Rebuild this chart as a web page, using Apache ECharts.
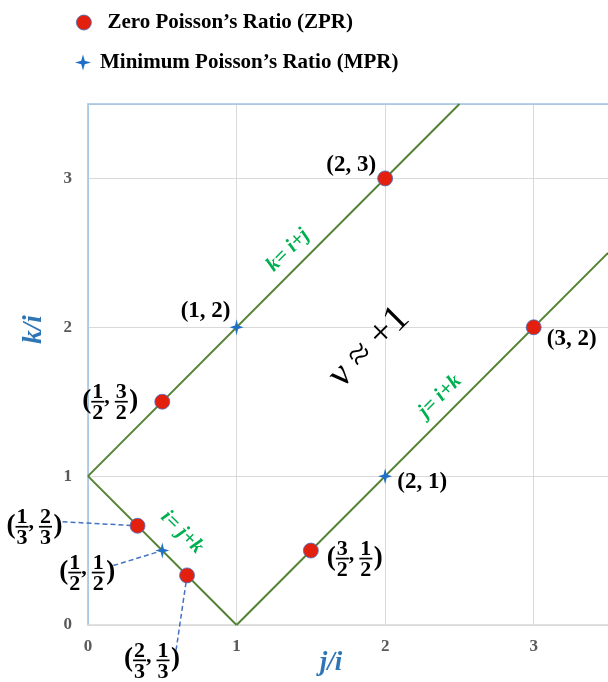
<!DOCTYPE html>
<html>
<head>
<meta charset="utf-8">
<script src="https://cdn.jsdelivr.net/npm/echarts@6/dist/echarts.min.js"></script>
<style>
  html, body { margin: 0; padding: 0; background: #fff; }
  #chart { width: 608px; height: 682px; }
</style>
</head>
<body>
<div id="chart"></div>
<script>
// Points written as fractions; the same strings feed both the marker position and its label.
const zprPoints = [['1/2', '3/2'], ['2', '3'], ['3', '2'], ['3/2', '1/2'], ['1/3', '2/3'], ['2/3', '1/3']];
const mprPoints = [['1', '2'], ['2', '1'], ['1/2', '1/2']];

// Boundary lines (end points in j/i, k/i)
const lineKij = [[0, 1], [2.5, 3.5]];   // k = i + j
const lineJik = [[1, 0], [3.5, 2.5]];   // j = i + k
const lineIjk = [[0, 1], [1, 0]];       // i = j + k

const xTicks = [0, 1, 2, 3];
const yTicks = [0, 1, 2, 3];

const seriesNames = ['Zero Poisson\u2019s Ratio (ZPR)', 'Minimum Poisson\u2019s Ratio (MPR)'];

// Text notes drawn along the lines, plus the region note
const notes = [
  { text: 'k= i+j', at: [1.347, 2.517], angle: 45, kind: 'eq' },
  { text: 'j= i+k', at: [2.37, 1.537], angle: 45, kind: 'eq' },
  { text: 'i= j+k', at: [0.633, 0.624], angle: -45, kind: 'eq' },
  { text: '\u03bd \u2248 +1', at: [1.892, 1.866], angle: 45, kind: 'big' }
];

// ---- label placement (pixel offsets from each marker) ----
const zprPlacement = [
  { dx: -52, dy: 0 },
  { dx: -34, dy: -13 },
  { dx: 38, dy: 12 },
  { dx: 44, dy: 8 },
  { dx: -103, dy: 1, lead: [28, -5], gap: 0 },
  { dx: -35, dy: 85, lead: [24, -10], gap: 0 }
];
const mprPlacement = [
  { dx: -31, dy: -16 },
  { dx: 37, dy: 6 },
  { dx: -75, dy: 22, lead: [26, -7], gap: 5 }
];

const FONT = '"Liberation Serif", "Times New Roman", serif';
const toNum = s => { const [n, d] = s.split('/'); return d ? Number(n) / Number(d) : Number(n); };
const asValues = pts => pts.map(p => [toNum(p[0]), toNum(p[1])]);

function fracShapes(str, fx, cy) {
  if (str.indexOf('/') < 0) {
    return [{ type: 'text', style: { text: str, x: fx, y: cy, align: 'center', verticalAlign: 'middle', font: 'bold 22px ' + FONT, fill: '#000' } }];
  }
  const [n, d] = str.split('/');
  return [
    { type: 'text', style: { text: n, x: fx, y: cy - 9.5, align: 'center', verticalAlign: 'middle', font: 'bold 22px ' + FONT, fill: '#000' } },
    { type: 'text', style: { text: d, x: fx, y: cy + 11.5, align: 'center', verticalAlign: 'middle', font: 'bold 22px ' + FONT, fill: '#000' } },
    { type: 'line', shape: { x1: fx - 6.5, y1: cy, x2: fx + 6.5, y2: cy }, style: { stroke: '#000', lineWidth: 1.7 } }
  ];
}

function labelShapes(cx, cy, pair) {
  const [a, b] = pair;
  if (a.indexOf('/') < 0 && b.indexOf('/') < 0) {
    return [{ type: 'text', style: { text: '(' + a + ', ' + b + ')', x: cx, y: cy, align: 'center', verticalAlign: 'middle', font: 'bold 23px ' + FONT, fill: '#000' } }];
  }
  return [
    { type: 'text', style: { text: '(', x: cx - 19, y: cy - 1, align: 'right', verticalAlign: 'middle', font: 'bold 27px ' + FONT, fill: '#000' } },
    ...fracShapes(a, cx - 12.5, cy),
    { type: 'text', style: { text: ',', x: cx - 6, y: cy - 4, align: 'left', verticalAlign: 'middle', font: 'bold 22px ' + FONT, fill: '#000' } },
    ...fracShapes(b, cx + 11, cy),
    { type: 'text', style: { text: ')', x: cx + 19, y: cy - 1, align: 'left', verticalAlign: 'middle', font: 'bold 27px ' + FONT, fill: '#000' } }
  ];
}

function pointLabels(pairs, placement) {
  return function (params, api) {
    const i = params.dataIndex;
    const p = api.coord([api.value(0), api.value(1)]);
    const pl = placement[i];
    const cx = p[0] + pl.dx, cy = p[1] + pl.dy;
    const children = [];
    if (pl.lead) {
      const sx = cx + pl.lead[0], sy = cy + pl.lead[1];
      const vx = sx - p[0], vy = sy - p[1];
      const len = Math.hypot(vx, vy);
      const ex = p[0] + vx / len * pl.gap, ey = p[1] + vy / len * pl.gap;
      children.push({ type: 'line', shape: { x1: sx, y1: sy, x2: ex, y2: ey },
        style: { stroke: '#4472C4', lineWidth: 1.5, lineDash: [5, 3] } });
    }
    children.push(...labelShapes(cx, cy, pairs[i]));
    return { type: 'group', children };
  };
}

function noteRender(params, api) {
  const n = notes[params.dataIndex];
  const p = api.coord([api.value(0), api.value(1)]);
  const big = n.kind === 'big';
  return {
    type: 'text',
    x: p[0], y: p[1],
    rotation: n.angle * Math.PI / 180,
    style: {
      text: n.text, x: 0, y: 0, align: 'center', verticalAlign: 'middle',
      font: big ? ('38px ' + FONT) : ('italic bold 21px ' + FONT),
      fill: big ? '#000' : '#00B050'
    }
  };
}

const starPath = 'path://M0,-10 L2.2,-2.2 L10,0 L2.2,2.2 L0,10 L-2.2,2.2 L-10,0 L-2.2,-2.2 Z';
const lineStyle = { color: '#548235', width: 2 };
const legendText = { fontFamily: FONT, fontWeight: 'bold', fontSize: 21, color: '#000' };

const chart = echarts.init(document.getElementById('chart'), null, { renderer: 'canvas' });
chart.setOption({
  animation: false,
  backgroundColor: '#fff',
  grid: { left: 88, right: 0, top: 104, bottom: 57, containLabel: false, outerBoundsMode: 'none' },
  legend: [
    {
      data: [{ name: seriesNames[0], icon: 'circle' }], left: 76, top: 12, padding: 0,
      itemWidth: 15, itemHeight: 15, itemStyle: { borderWidth: 0.8 },
      textStyle: Object.assign({ padding: [0, 0, 0, 11] }, legendText)
    },
    {
      data: [{ name: seriesNames[1], icon: starPath }], left: 75, top: 52, padding: 0,
      itemWidth: 16, itemHeight: 18,
      textStyle: Object.assign({ padding: [0, 0, 0, 4] }, legendText)
    }
  ],
  xAxis: [
    {
      type: 'value', min: 0, max: 3.5, interval: 1,
      axisLine: { show: true, lineStyle: { color: '#D9D9D9', width: 1.5 } },
      axisTick: { show: false },
      splitLine: { show: true, lineStyle: { color: '#D9D9D9', width: 1 } },
      axisLabel: {
        margin: 13, showMaxLabel: false, fontFamily: FONT, fontWeight: 'bold', fontSize: 17, color: '#595959',
        formatter: v => (xTicks.indexOf(v) >= 0 ? String(v) : '')
      },
      name: 'j/i', nameLocation: 'middle', nameGap: 25, nameMoveOverlap: false,
      nameTextStyle: { fontFamily: FONT, fontStyle: 'italic', fontWeight: 'bold', fontSize: 27, color: '#2E75B6', padding: [0, 34, 0, 0] }
    },
    {
      type: 'value', position: 'top', min: 0, max: 3.5,
      axisLine: { show: true, lineStyle: { color: '#9DC3E6', width: 1.5 } },
      axisTick: { show: false }, axisLabel: { show: false }, splitLine: { show: false }
    }
  ],
  yAxis: {
    type: 'value', min: 0, max: 3.5, interval: 1,
    axisLine: { show: true, lineStyle: { color: '#9DC3E6', width: 1.5 } },
    axisTick: { show: false },
    splitLine: { show: true, lineStyle: { color: '#D9D9D9', width: 1 } },
    axisLabel: {
      margin: 16, showMaxLabel: false, fontFamily: FONT, fontWeight: 'bold', fontSize: 17, color: '#595959',
      formatter: v => (yTicks.indexOf(v) >= 0 ? String(v) : '')
    },
    name: 'k/i', nameLocation: 'middle', nameRotate: 90, nameGap: 40,
    nameTextStyle: { fontFamily: FONT, fontStyle: 'italic', fontWeight: 'bold', fontSize: 27, color: '#2E75B6', padding: [0, 0, 0, 70] }
  },
  series: [
    { type: 'line', data: lineKij, symbol: 'none', lineStyle, silent: true, z: 2 },
    { type: 'line', data: lineJik, symbol: 'none', lineStyle, silent: true, z: 2 },
    { type: 'line', data: lineIjk, symbol: 'none', lineStyle, silent: true, z: 2 },
    { type: 'custom', name: 'notes', data: notes.map(n => n.at), renderItem: noteRender, silent: true, z: 3 },
    { type: 'custom', name: 'zprLabels', data: asValues(zprPoints), renderItem: pointLabels(zprPoints, zprPlacement), silent: true, z: 3 },
    { type: 'custom', name: 'mprLabels', data: asValues(mprPoints), renderItem: pointLabels(mprPoints, mprPlacement), silent: true, z: 3 },
    {
      type: 'scatter', name: seriesNames[0], data: asValues(zprPoints), symbol: 'circle', symbolSize: 15,
      itemStyle: { color: '#E3200E', borderColor: '#4472C4', borderWidth: 0.8, opacity: 1 }, z: 5
    },
    {
      type: 'scatter', name: seriesNames[1], data: asValues(mprPoints), symbol: starPath, symbolSize: [14, 16],
      itemStyle: { color: '#1F6FC8', opacity: 1 }, z: 5
    }
  ]
});
</script>
</body>
</html>
